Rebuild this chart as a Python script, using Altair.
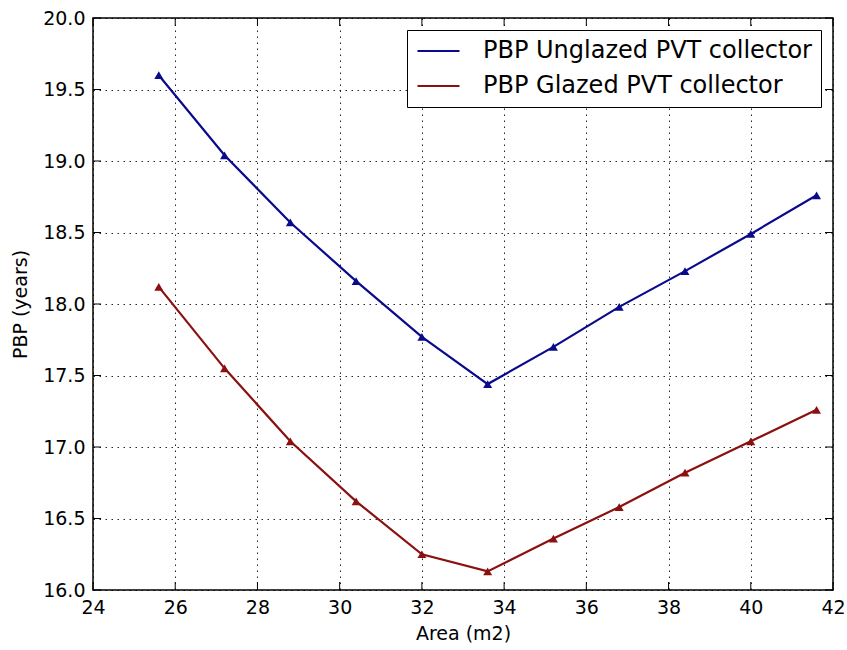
import altair as alt
import pandas as pd

area = [25.6, 27.2, 28.8, 30.4, 32.0, 33.6, 35.2, 36.8, 38.4, 40.0, 41.6]
pbp_unglazed = [19.60, 19.04, 18.57, 18.16, 17.77, 17.44, 17.70, 17.98, 18.23, 18.49, 18.76]
pbp_glazed = [18.12, 17.55, 17.04, 16.62, 16.25, 16.13, 16.36, 16.58, 16.82, 17.04, 17.26]
series_names = ["PBP Unglazed PVT collector", "PBP Glazed PVT collector"]
series_colors = ["#0a0a8c", "#8b1010"]
x_ticks = [24, 26, 28, 30, 32, 34, 36, 38, 40, 42]
y_ticks = [16.0, 16.5, 17.0, 17.5, 18.0, 18.5, 19.0, 19.5, 20.0]

rows = []
for name, vals in zip(series_names, [pbp_unglazed, pbp_glazed]):
    for a, v in zip(area, vals):
        rows.append({"Area": a, "PBP": v, "Series": name})
df = pd.DataFrame(rows)

W, H = 740, 572
FONT = "DejaVu Sans"

xscale = alt.Scale(domain=[24, 42], nice=False, zero=False)
yscale = alt.Scale(domain=[16, 20], nice=False, zero=False)
color = alt.Color(
    "Series:N",
    scale=alt.Scale(domain=series_names, range=series_colors),
    legend=alt.Legend(
        title=None,
        orient="none",
        legendX=314,
        legendY=12,
        symbolType="stroke",
        symbolSize=1764,
        symbolStrokeWidth=2.2,
        clipHeight=24,
        labelFontSize=24,
        labelFont=FONT,
        labelColor="black",
        labelOffset=22,
        rowPadding=11,
        padding=9,
        strokeColor="black",
        fillColor="white",
        labelLimit=500,
    ),
)

xaxis = alt.Axis(
    title="Area (m2)", values=x_ticks, format="d", grid=True, ticks=False, domain=False,
    labelFontSize=19, titleFontSize=19, labelFont=FONT, titleFont=FONT,
    labelColor="black", titleColor="black", titleFontWeight="normal",
    labelPadding=8, titlePadding=7, labelFlush=False, labelOverlap=False,
    gridColor="black", gridDash=[1.5, 4.5], gridOpacity=0.85, gridWidth=1,
)
yaxis = alt.Axis(
    title="PBP (years)", values=y_ticks, format=".1f", grid=True, ticks=False, domain=False,
    labelFontSize=19, titleFontSize=19, labelFont=FONT, titleFont=FONT,
    labelColor="black", titleColor="black", titleFontWeight="normal",
    labelPadding=8, titlePadding=12, labelFlush=False, labelOverlap=False,
    gridColor="black", gridDash=[1.5, 4.5], gridOpacity=0.85, gridWidth=1,
)

base = alt.Chart(df).encode(
    x=alt.X("Area:Q", scale=xscale, axis=xaxis),
    y=alt.Y("PBP:Q", scale=yscale, axis=yaxis),
    color=color,
)
lines = base.mark_line(strokeWidth=2.2)
points = base.mark_point(shape="triangle-up", filled=True, size=80, opacity=1)

xt = pd.DataFrame({"Area": x_ticks})
yt = pd.DataFrame({"PBP": y_ticks})
TL = 8
xb = alt.Chart(xt).mark_rule(color="black", strokeWidth=1).encode(
    x=alt.X("Area:Q", scale=xscale, axis=xaxis), y=alt.value(H), y2=alt.value(H - TL))
xtop = alt.Chart(xt).mark_rule(color="black", strokeWidth=1).encode(
    x=alt.X("Area:Q", scale=xscale, axis=xaxis), y=alt.value(0), y2=alt.value(TL))
yl = alt.Chart(yt).mark_rule(color="black", strokeWidth=1).encode(
    y=alt.Y("PBP:Q", scale=yscale, axis=yaxis), x=alt.value(0), x2=alt.value(TL))
yr = alt.Chart(yt).mark_rule(color="black", strokeWidth=1).encode(
    y=alt.Y("PBP:Q", scale=yscale, axis=yaxis), x=alt.value(W), x2=alt.value(W - TL))

chart = alt.layer(lines, points, xb, xtop, yl, yr).properties(
    width=W, height=H,
    autosize=alt.AutoSizeParams(type="none"),
    padding={"left": 93, "top": 18, "right": 14, "bottom": 60},
    background="white",
).configure_view(stroke="black", strokeWidth=1.5)

chart.save("out.html", embed_options={"renderer": "svg", "actions": False})
